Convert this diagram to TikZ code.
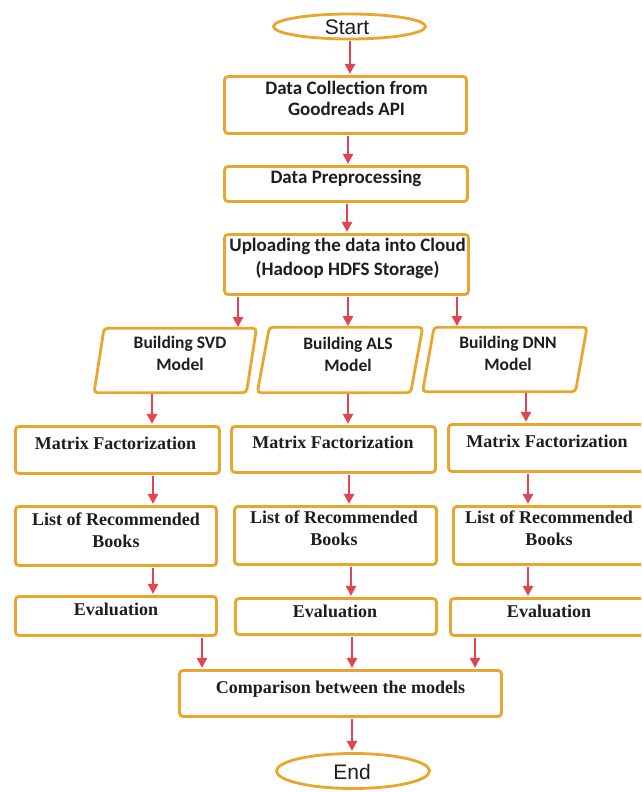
\documentclass[tikz,border=0pt]{standalone}
\usepackage{fontspec}
\setmainfont{Liberation Serif}
\newfontfamily\calfont{Carlito}
\newfontfamily\arialfont{Liberation Sans}
\usetikzlibrary{arrows.meta,shapes.geometric}
\definecolor{boxorange}{HTML}{E8A62E}
\definecolor{arrred}{HTML}{E2454F}
\definecolor{txtcol}{HTML}{1E1E1E}
\newcommand{\vconn}[3]{\draw[arr] (#1.south -| #3,0) -- (#2.north -| #3,0);}
\newcommand{\paragram}[2]{\draw[box] ([xshift=#2pt]#1.north west) -- ([xshift=#2pt]#1.north east) -- ([xshift=-#2pt]#1.south east) -- ([xshift=-#2pt]#1.south west) -- cycle;}
\begin{document}
\begin{tikzpicture}[x=1pt,y=-1pt,
  box/.style={draw=boxorange, line width=2.8pt, rounded corners=3.5pt, fill=white, inner sep=0pt},
  term/.style={ellipse, draw=boxorange, line width=2.8pt, fill=white, inner sep=0pt},
  ghost/.style={rectangle, inner sep=0pt},
  ctext/.style={text=txtcol, font=\calfont\bfseries\fontsize{19}{21}\selectfont, align=center, inner sep=0pt, anchor=base},
  ptext/.style={text=txtcol, font=\calfont\bfseries\fontsize{17.5}{21.5}\selectfont, align=center, inner sep=0pt, anchor=base},
  ttext/.style={text=txtcol, font=\bfseries\fontsize{18}{22}\selectfont, align=center, inner sep=0pt, anchor=base},
  atext/.style={text=txtcol, font=\arialfont\fontsize{21}{24}\selectfont, inner sep=0pt, anchor=base},
  arr/.style={draw=arrred, line width=2.4pt, shorten <=1pt, shorten >=1.2pt, -{Triangle[length=10pt,width=10pt]}}
]
\useasboundingbox (0,0) rectangle (641,792);
\clip (0,0) rectangle (641,792);

% terminals and top boxes
\node[term, minimum width=152pt, minimum height=25pt] (start) at (349.5,26.5) {};
\node[box, minimum width=242pt, minimum height=57pt] (dc) at (345.5,105) {};
\node[box, minimum width=243pt, minimum height=35pt] (pre) at (346,184) {};
\node[box, minimum width=244pt, minimum height=60pt] (up) at (346.5,264.5) {};

% parallelograms
\node[ghost, minimum width=152pt, minimum height=64pt] (svd) at (175.25,360.5) {};
\node[ghost, minimum width=153pt, minimum height=65pt] (als) at (340,360) {};
\node[ghost, minimum width=152.5pt, minimum height=64pt] (dnn) at (504.75,359.5) {};
\paragram{svd}{5}
\paragram{als}{6}
\paragram{dnn}{5.75}

% column boxes
\node[box, minimum width=204pt, minimum height=47pt] (mf1) at (117.5,450) {};
\node[box, minimum width=204pt, minimum height=46pt] (mf2) at (333.5,449.5) {};
\node[box, minimum width=200pt, minimum height=47pt] (mf3) at (548.5,448) {};
\node[box, minimum width=201pt, minimum height=59pt] (l1) at (116,536) {};
\node[box, minimum width=202pt, minimum height=58pt] (l2) at (335.5,535.5) {};
\node[box, minimum width=193pt, minimum height=58pt] (l3) at (550,535.5) {};
\node[box, minimum width=201pt, minimum height=39pt] (e1) at (116,616) {};
\node[box, minimum width=201pt, minimum height=36pt] (e2) at (336,616.5) {};
\node[box, minimum width=198pt, minimum height=37pt] (e3) at (549.5,617) {};
\node[box, minimum width=322pt, minimum height=46pt] (comp) at (340.5,693.5) {};
\node[term, minimum width=153pt, minimum height=35pt] (end) at (353,771) {};

% texts (anchor=base is the baseline of the last line)
\node[atext] (tstart) at (347,35) {Start};
\node[ctext] (tdc) at (346.5,115) {Data Collection from\\Goodreads API};
\node[ctext] (tpre) at (346,183) {Data Preprocessing};
\node[ctext] (tup) at (347.5,275) {Uploading the data into Cloud\\[3pt](Hadoop HDFS Storage)};
\node[ptext] (tsvd) at (180,370) {Building SVD\\Model};
\node[ptext] (tals) at (348,371) {Building ALS\\Model};
\node[ptext] (tdnn) at (508,370) {Building DNN\\Model};
\node[ttext] (tmf1) at (115.5,449) {Matrix Factorization};
\node[ttext] (tmf2) at (333,448) {Matrix Factorization};
\node[ttext] (tmf3) at (547,447) {Matrix Factorization};
\node[ttext] (tl1) at (116,547) {List of Recommended\\Books};
\node[ttext] (tl2) at (334,545) {List of Recommended\\Books};
\node[ttext] (tl3) at (549,545) {List of Recommended\\Books};
\node[ttext] (te1) at (116,615) {Evaluation};
\node[ttext] (te2) at (335,617) {Evaluation};
\node[ttext] (te3) at (549,617) {Evaluation};
\node[ttext] (tcomp) at (340.5,693) {Comparison between the models};
\node[atext] (tend) at (352,779) {End};

% connectors
\vconn{start}{dc}{350}
\vconn{dc}{pre}{348}
\vconn{pre}{up}{347}
\vconn{up}{svd}{238}
\vconn{up}{als}{348}
\vconn{up}{dnn}{457}
\vconn{svd}{mf1}{152}
\vconn{als}{mf2}{348}
\vconn{dnn}{mf3}{526}
\vconn{mf1}{l1}{153}
\vconn{mf2}{l2}{349}
\vconn{mf3}{l3}{528}
\vconn{l1}{e1}{153}
\vconn{l2}{e2}{351}
\vconn{l3}{e3}{528}
\vconn{e1}{comp}{202}
\vconn{e2}{comp}{352}
\vconn{e3}{comp}{475}
\vconn{comp}{end}{352}
\end{tikzpicture}
\end{document}
